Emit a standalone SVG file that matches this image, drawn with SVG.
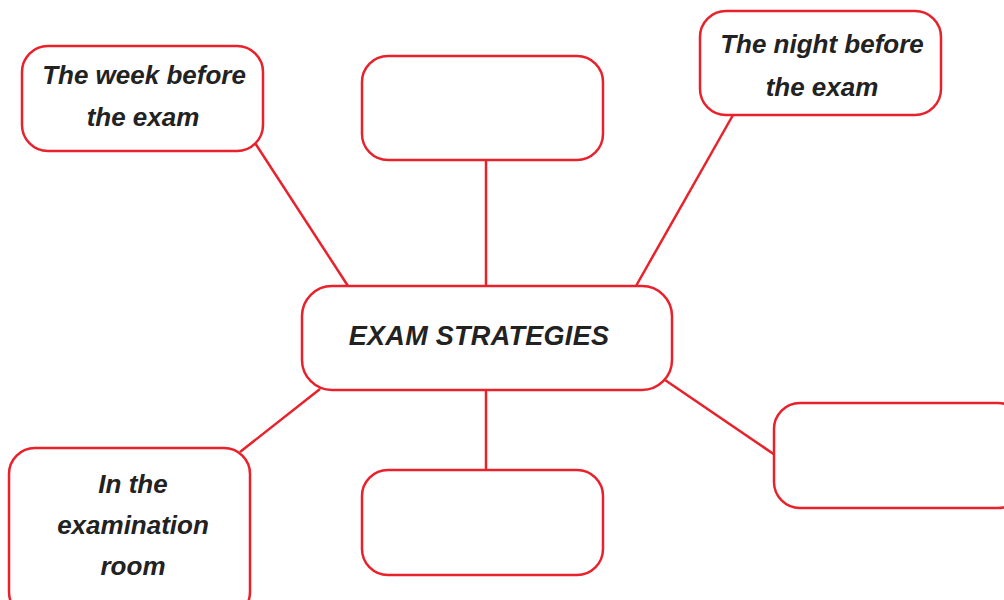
<svg xmlns="http://www.w3.org/2000/svg" width="1004" height="600" viewBox="0 0 1004 600">
<style>
.box{fill:#fff;stroke:#e8212b;stroke-width:2.5}
.con line{stroke:#e8212b;stroke-width:2.5}
text{font-family:"Liberation Sans",Arial,sans-serif;font-style:italic;font-weight:bold;fill:#222;text-anchor:middle}
.t{font-size:26px}
.c{font-size:27px;letter-spacing:0.3px}
</style>
<rect width="1004" height="600" fill="#fff"/>
<g class="con">
<line x1="255" y1="143" x2="348" y2="286"/>
<line x1="486" y1="160" x2="486" y2="287"/>
<line x1="733" y1="115" x2="636" y2="286"/>
<line x1="320" y1="389" x2="240" y2="452"/>
<line x1="486" y1="390" x2="486" y2="470"/>
<line x1="665" y1="380" x2="775" y2="455"/>
</g>
<g id="week"><rect class="box" x="22" y="46" width="241" height="105" rx="26"/><text class="t" x="144" y="84">The week before</text><text class="t" x="143" y="126">the exam</text></g>
<g id="topcenter"><rect class="box" x="362" y="56" width="241" height="104" rx="26"/></g>
<g id="night"><rect class="box" x="700" y="11" width="241" height="104" rx="26"/><text class="t" x="822" y="53">The night before</text><text class="t" x="822" y="96">the  exam</text></g>
<g id="center"><rect class="box" x="302" y="286" width="370" height="104" rx="30"/><text class="c" x="479" y="345">EXAM STRATEGIES</text></g>
<g id="room"><rect class="box" x="9" y="448" width="241" height="170" rx="26"/><text class="t" x="133" y="493">In the</text><text class="t" x="133" y="534">examination</text><text class="t" x="133" y="575">room</text></g>
<g id="bottomcenter"><rect class="box" x="362" y="470" width="241" height="105" rx="26"/></g>
<g id="right"><rect class="box" x="774" y="403" width="250" height="105" rx="26"/></g>
</svg>
